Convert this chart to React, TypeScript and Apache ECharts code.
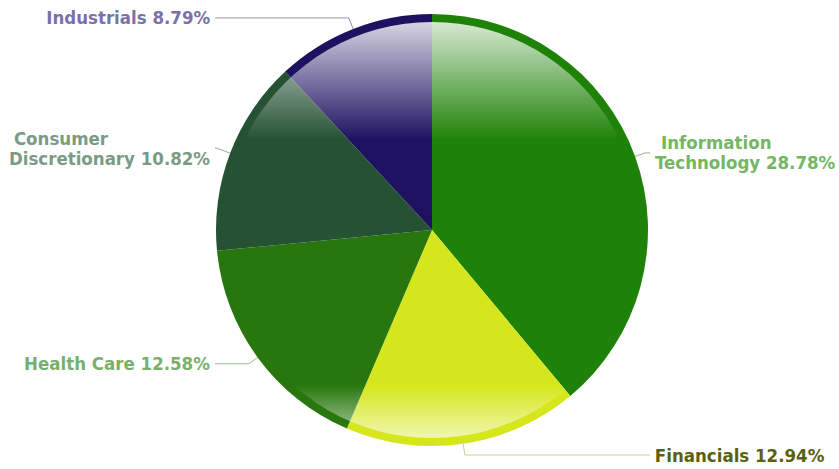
import React, { useEffect, useRef } from 'react';
import * as echarts from 'echarts';

// ---- data ----
const categories = ['Information Technology', 'Financials', 'Health Care', 'Consumer Discretionary', 'Industrials'];
const labelFirstLines = ['Information', '', '', 'Consumer', ''];
const labelSecondLines = ['Technology', 'Financials', 'Health Care', 'Discretionary', 'Industrials'];
const values = [28.78, 12.94, 12.58, 10.82, 8.79];

// ---- styles ----
const sliceColors = ['#1f8208', '#d5e71c', '#28770e', '#255233', '#1d1160'];
const labelColors = ['#74b664', '#5b600f', '#78b06a', '#7a9a85', '#7a72a6'];
const lineColors = ['#8fb88a', '#c9cd95', '#9dbb94', '#9aa89f', '#9590b3'];
const lineLen = [10.3, 11.4, 10.8, 14, 11.8];
const lineLen2 = [5.3, 185, 34, 2, 133.7];
const firstLinePad = [[0, 0, 0, 6], [0, 0, 0, 0], [0, 0, 0, 0], [0, 0, 0, 5], [0, 0, 0, 0]];

const FONT = "'DejaVu Sans Condensed', 'DejaVu Sans', sans-serif";
const FONT_SIZE = 18.5;
const LINE_H = 20;

export default function App() {
  const ref = useRef<HTMLDivElement>(null);

  useEffect(() => {
    if (!ref.current) return;
    const chart = echarts.init(ref.current, undefined, { renderer: 'svg' });

    const data = categories.map((name, i) => {
      const pct = values[i].toFixed(2) + '%';
      const first = labelFirstLines[i];
      const formatter = first
        ? `{a|${first}}\n{b|${labelSecondLines[i]} ${pct}}`
        : `{b|${labelSecondLines[i]} ${pct}}`;
      const tokenBase = {
        fontFamily: FONT,
        fontSize: FONT_SIZE,
        fontWeight: 'bold' as const,
        color: labelColors[i],
        lineHeight: LINE_H,
        align: 'left' as const,
      };
      return {
        name,
        value: values[i],
        itemStyle: { color: sliceColors[i] },
        label: {
          formatter,
          color: labelColors[i],
          rich: {
            a: { ...tokenBase, padding: firstLinePad[i] },
            b: { ...tokenBase },
          },
        },
        labelLine: {
          length: lineLen[i],
          length2: lineLen2[i],
          lineStyle: { color: lineColors[i], width: 1 },
        },
      };
    });

    chart.setOption({
      animation: false,
      backgroundColor: '#ffffff',
      series: [
        {
          type: 'pie',
          center: [432, 230],
          radius: [0, 216],
          startAngle: 90,
          clockwise: true,
          avoidLabelOverlap: true,
          itemStyle: { borderWidth: 0 },
          label: {
            show: true,
            position: 'outer',
            alignTo: 'none',
            bleedMargin: 0,
            edgeDistance: 0,
            distanceToLabelLine: 5,
            overflow: 'none',
            fontFamily: FONT,
            fontSize: FONT_SIZE,
            fontWeight: 'bold',
            lineHeight: LINE_H,
          },
          labelLine: {
            show: true,
            smooth: false,
            minTurnAngle: 0,
          },
          emphasis: { disabled: true },
          data,
        },
        {
          type: 'pie',
          center: [432, 230],
          radius: [0, 208],
          silent: true,
          label: { show: false },
          labelLine: { show: false },
          emphasis: { disabled: true },
          itemStyle: {
            color: {
              type: 'linear',
              x: 0,
              y: 0,
              x2: 0,
              y2: 1,
              colorStops: [
                { offset: 0, color: 'rgba(255,255,255,0.82)' },
                { offset: 0.284, color: 'rgba(255,255,255,0)' },
                { offset: 0.873, color: 'rgba(255,255,255,0)' },
                { offset: 1, color: 'rgba(255,255,255,0.65)' },
              ],
            },
          },
          data: [{ value: 1, name: 'overlay' }],
        },
      ],
    });

    return () => chart.dispose();
  }, []);

  return (
    <div
      ref={ref}
      style={{ position: 'absolute', left: 0, top: 0, width: 839, height: 469 }}
    />
  );
}
